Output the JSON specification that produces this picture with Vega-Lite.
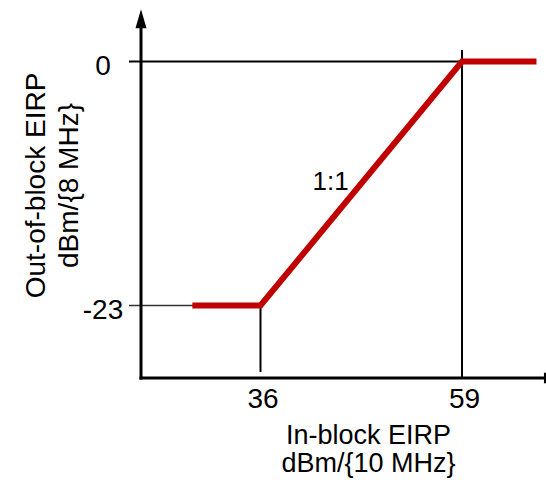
{
  "$schema": "https://vega.github.io/schema/vega-lite/v6.json",
  "width": 404,
  "height": 369,
  "autosize": {"type": "none"},
  "padding": {"left": 141, "top": 9, "right": 1, "bottom": 104},
  "background": "white",
  "config": {"view": {"stroke": null}, "font": "Liberation Sans"},
  "datasets": {
    "curve": [
      {"x": 28.22, "y": -23},
      {"x": 36, "y": -23},
      {"x": 59, "y": 0},
      {"x": 67.5, "y": 0}
    ],
    "guides": [
      {"x": 20.99, "x2": 59, "y": 0, "y2": 0, "kind": "thick"},
      {"x": 59, "x2": 59, "y": 1.08, "y2": -29.834, "kind": "thick"},
      {"x": 36, "x2": 36, "y": -23, "y2": -29.27, "kind": "thick"},
      {"x": 20.99, "x2": 36, "y": -23, "y2": -23, "kind": "thin"}
    ],
    "axes": [
      {"x": 22.36, "x2": 22.36, "y": -29.834, "y2": 3.6},
      {"x": 22.36, "x2": 68.4, "y": -29.834, "y2": -29.834}
    ],
    "arrows": [
      {"x": 22.36, "y": 4.03, "dir": "up"},
      {"x": 69.44, "y": -29.834, "dir": "right"}
    ],
    "notes": [
      {"x": 44.0, "y": -12.11, "label": "1:1"}
    ]
  },
  "encoding": {
    "x": {
      "field": "x",
      "type": "quantitative",
      "scale": {"domain": [22.36, 68.474], "nice": false, "zero": false},
      "axis": {
        "values": [36, 59],
        "domain": false,
        "ticks": false,
        "tickSize": 0,
        "grid": false,
        "labelFontSize": 28,
        "labelFont": "Liberation Sans",
        "labelColor": "black",
        "labelPadding": 7,
        "labelOffset": 2,
        "labelFlush": false,
        "labelOverlap": false,
        "labelBaseline": "top",
        "title": ["In-block EIRP", "dBm/{10 MHz}"],
        "titleFont": "Liberation Sans",
        "titleFontSize": 27,
        "titleFontWeight": "normal",
        "titleColor": "black",
        "titleLineHeight": 28.5,
        "titleAlign": "center",
        "titleBaseline": "top",
        "titleX": 227,
        "titleY": 44
      }
    },
    "y": {
      "field": "y",
      "type": "quantitative",
      "scale": {"domain": [-29.834, 4.949], "nice": false, "zero": false},
      "axis": {
        "values": [0, -23],
        "domain": false,
        "ticks": false,
        "tickSize": 0,
        "grid": false,
        "labelExpr": "datum.value < 0 ? '-' + abs(datum.value) : '' + datum.value",
        "labelFontSize": 28,
        "labelFont": "Liberation Sans",
        "labelColor": "black",
        "labelAlign": "center",
        "labelBaseline": "middle",
        "labelPadding": 38.5,
        "labelOffset": 5,
        "labelFlush": false,
        "labelOverlap": false,
        "title": ["Out-of-block EIRP", "dBm/{8 MHz}"],
        "titleFont": "Liberation Sans",
        "titleFontSize": 28,
        "titleFontWeight": "normal",
        "titleColor": "black",
        "titleLineHeight": 33,
        "titleAngle": 270,
        "titleAlign": "center",
        "titleBaseline": "top",
        "titleX": -119,
        "titleY": 176
      }
    }
  },
  "layer": [
    {
      "data": {"name": "guides"},
      "mark": {"type": "rule", "strokeCap": "butt"},
      "encoding": {
        "x2": {"field": "x2"},
        "y2": {"field": "y2"},
        "strokeWidth": {"field": "kind", "type": "nominal", "scale": {"domain": ["thick", "thin"], "range": [2, 1.5]}, "legend": null},
        "color": {"field": "kind", "type": "nominal", "scale": {"domain": ["thick", "thin"], "range": ["#000000", "#333333"]}, "legend": null}
      }
    },
    {
      "data": {"name": "axes"},
      "mark": {"type": "rule", "strokeWidth": 3, "color": "black", "strokeCap": "square"},
      "encoding": {
        "x2": {"field": "x2"},
        "y2": {"field": "y2"}
      }
    },
    {
      "data": {"name": "arrows"},
      "mark": {"type": "point", "filled": true, "color": "black", "opacity": 1, "size": 361, "strokeWidth": 0},
      "encoding": {
        "shape": {"field": "dir", "type": "nominal", "scale": {"domain": ["up", "right"], "range": ["M0,-1L0.58,1L-0.58,1Z", "M1,0L-1,-0.58L-1,0.58Z"]}, "legend": null}
      }
    },
    {
      "data": {"name": "curve"},
      "mark": {"type": "line", "color": "#c00000", "strokeWidth": 6, "strokeJoin": "miter", "strokeCap": "butt"},
      "encoding": {"order": {"field": "x", "type": "quantitative"}}
    },
    {
      "data": {"name": "notes"},
      "mark": {"type": "text", "fontSize": 26, "font": "Liberation Sans", "color": "black", "align": "center", "baseline": "alphabetic"},
      "encoding": {"text": {"field": "label"}}
    }
  ]
}
